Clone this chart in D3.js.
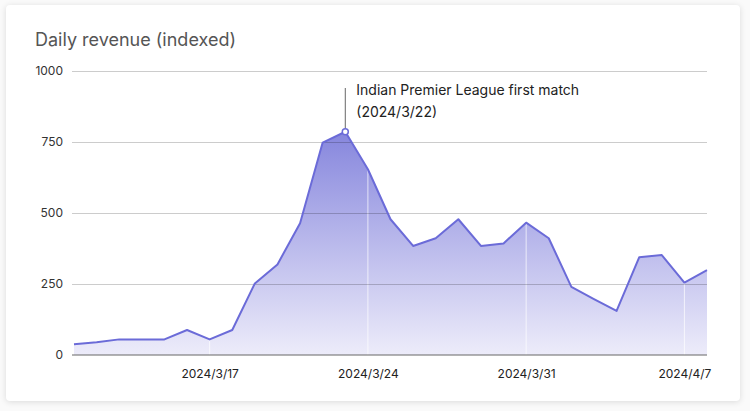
<!DOCTYPE html>
<html>
<head>
<meta charset="utf-8">
<script src="https://cdn.jsdelivr.net/npm/d3@7"></script>
<style>
  html, body { margin: 0; padding: 0; background: #fafafa; width: 750px; height: 411px; overflow: hidden; }
  #card { position: absolute; left: 6px; top: 5px; width: 734px; height: 396px; background: #fff;
          border-radius: 4px; box-shadow: 0 1px 6px rgba(0,0,0,0.13); }
  svg { position: absolute; left: 0; top: 0; }
  text { font-family: Inter, "Noto Sans", sans-serif; }
</style>
</head>
<body>
<div id="card"></div>
<svg id="chart" width="750" height="411"></svg>
<script>
const dates = ["2024-03-11","2024-03-12","2024-03-13","2024-03-14","2024-03-15","2024-03-16","2024-03-17",
  "2024-03-18","2024-03-19","2024-03-20","2024-03-21","2024-03-22","2024-03-23","2024-03-24",
  "2024-03-25","2024-03-26","2024-03-27","2024-03-28","2024-03-29","2024-03-30","2024-03-31",
  "2024-04-01","2024-04-02","2024-04-03","2024-04-04","2024-04-05","2024-04-06","2024-04-07","2024-04-08"];
const revenue = [38,45,55,55,55,88,55,88,252,319,464,748,786,654,478,384,411,478,384,393,466,
  411,240,197,155,344,352,255,299];
const xTickDates = ["2024-03-17","2024-03-24","2024-03-31","2024-04-07"];
const xTickLabels = ["2024/3/17","2024/3/24","2024/3/31","2024/4/7"];
const yTicks = [0,250,500,750,1000];
const title = "Daily revenue (indexed)";
const annotationDate = "2024-03-23";
const annotationLines = ["Indian Premier League first match","(2024/3/22)"];

const parse = d3.utcParse("%Y-%m-%d");
const data = dates.map((d,i)=>({date: parse(d), value: revenue[i]}));

const mLeft = 74, mRight = 707, mTop = 71, mBottom = 355;
const x = d3.scaleUtc().domain(d3.extent(data, d=>d.date)).range([mLeft, mRight]);
const y = d3.scaleLinear().domain([0,1000]).range([mBottom, mTop]);

const svg = d3.select("#chart");

svg.append("text").attr("x", 35).attr("y", 46).attr("font-size", 18)
  .attr("fill", "#555").text(title);

const defs = svg.append("defs");
const grad = defs.append("linearGradient").attr("id","areaGrad")
  .attr("gradientUnits","userSpaceOnUse").attr("x1",0).attr("x2",0)
  .attr("y1", y(d3.max(revenue))).attr("y2", mBottom);
grad.append("stop").attr("offset","0%").attr("stop-color","#8686dd");
grad.append("stop").attr("offset","100%").attr("stop-color","#edecfa");

// area
const area = d3.area().x(d=>x(d.date)).y0(mBottom).y1(d=>y(d.value));
svg.append("path").datum(data).attr("d", area).attr("fill","url(#areaGrad)");

// vertical white grid lines
svg.append("g").selectAll("line").data(xTickDates).join("line")
  .attr("x1", d=>x(parse(d))).attr("x2", d=>x(parse(d)))
  .attr("y1", mTop).attr("y2", mBottom)
  .attr("stroke", "#fff").attr("stroke-opacity", 0.7).attr("stroke-width", 1);

// horizontal grid lines
const yAxis = d3.axisLeft(y).tickValues(yTicks).tickFormat(d3.format("d"))
  .tickSize(-(mRight-mLeft+2)).tickPadding(10);
const gy = svg.append("g").attr("transform", `translate(${mLeft-2},0)`).call(yAxis);
gy.select(".domain").remove();
gy.selectAll(".tick line").attr("stroke","rgba(0,0,0,0.2)").attr("shape-rendering","crispEdges");
gy.selectAll(".tick").filter(d=>d===0).select("line").remove();
gy.selectAll(".tick text").attr("font-size", 12).attr("fill","#333")
  .attr("font-family","Inter, sans-serif").attr("x", -9);

// line
const line = d3.line().x(d=>x(d.date)).y(d=>y(d.value));
svg.append("path").datum(data).attr("d", line).attr("fill","none")
  .attr("stroke","#6b6bd8").attr("stroke-width",2).attr("stroke-linejoin","round");

// x axis
const xAxis = d3.axisBottom(x).tickValues(xTickDates.map(parse))
  .tickFormat((d,i)=>xTickLabels[i]).tickSize(0).tickPadding(14);
const gx = svg.append("g").attr("transform", `translate(0,${mBottom})`).call(xAxis);
gx.select(".domain").attr("stroke","#666").attr("d", `M${mLeft-2},0H${mRight}`);
gx.selectAll(".tick text").attr("font-size", 12).attr("fill","#222")
  .attr("font-family","Inter, sans-serif");

// annotation
const ad = data.find(d=>+d.date === +parse(annotationDate));
const ax = x(ad.date), ay = y(ad.value);
svg.append("line").attr("x1", ax).attr("x2", ax).attr("y1", 88).attr("y2", ay)
  .attr("stroke","#666").attr("stroke-width",1);
svg.append("circle").attr("cx", ax).attr("cy", ay).attr("r", 3)
  .attr("fill","#fff").attr("stroke","#6b6bd8").attr("stroke-width",1.5);
const at = svg.append("text").attr("x", ax + 11).attr("y", 95).attr("font-size", 14).attr("fill","#222");
annotationLines.forEach((t,i)=>at.append("tspan").attr("x", ax+11).attr("dy", i===0?0:22).text(t));
</script>
</body>
</html>
